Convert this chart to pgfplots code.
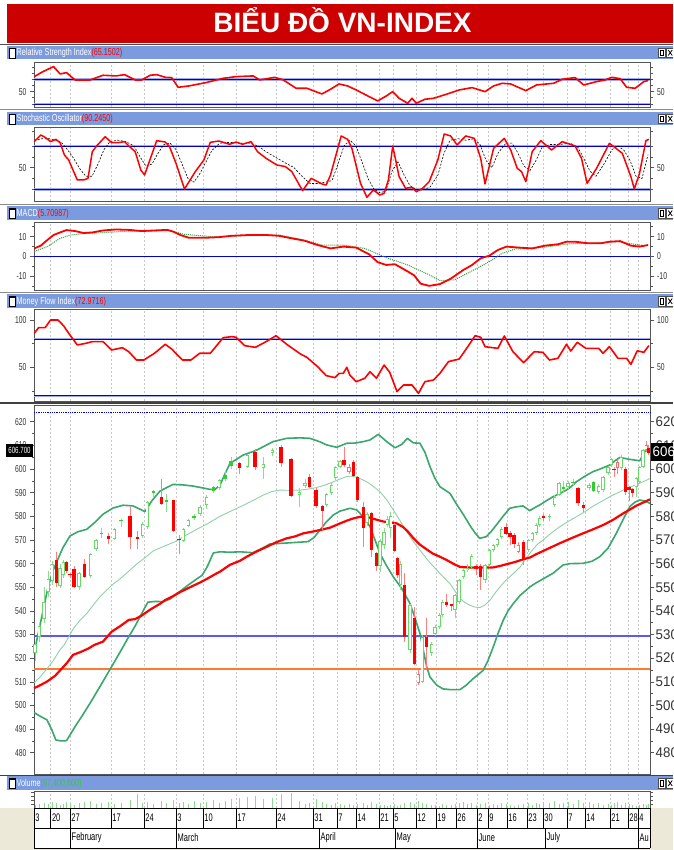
\documentclass[border=0pt]{standalone}
\usepackage{fontspec}
\setmainfont{Liberation Sans}
\newfontfamily\nar[FakeStretch=0.68]{Liberation Sans}
\newfontfamily\narb[FakeStretch=0.95]{Liberation Sans}
\newfontfamily\hdrf[FakeStretch=0.72]{Liberation Sans}
\usepackage{pgfplots}
\usepackage{pgfplotstable}
\pgfplotsset{compat=1.18}
\definecolor{titlered}{HTML}{CC0000}
\definecolor{hdrc}{HTML}{7B9BDE}
\definecolor{bbgreen}{HTML}{3AA76D}
\definecolor{mbgreen}{HTML}{8ED1A8}
\definecolor{cgreen}{HTML}{66D966}
\definecolor{cgreenf}{HTML}{33CC33}
\definecolor{cred}{HTML}{FF0000}
\definecolor{cpink}{HTML}{FF6A6A}
\definecolor{wickred}{HTML}{FF7F7F}
\definecolor{wickgreen}{HTML}{8AE08A}
\definecolor{lineblue}{HTML}{0000CC}
\definecolor{haloblue}{HTML}{A0A8F0}
\definecolor{pblue}{HTML}{5A5AF0}
\definecolor{orangeline}{HTML}{FF7A30}
\definecolor{beige}{HTML}{ECE9D8}
\definecolor{axisc}{HTML}{555555}
\definecolor{tickc}{HTML}{333333}
\definecolor{gridc}{HTML}{C8C8C8}
\definecolor{volg}{HTML}{8ADD8A}
\definecolor{sigg}{HTML}{2E9E3E}
\definecolor{valgreen}{HTML}{33CC33}

\pgfplotsset{
  panel/.style={
    scale only axis, width=616pt, anchor=south west,
    xmin=34, xmax=650, xtick=\empty,
    axis line style={draw=axisc, line width=0.8pt},
    tick align=outside, tick style={draw=axisc, line width=0.6pt},
    major tick length=4pt, minor tick length=2.5pt,
    yticklabel style={font=\nar\fontsize{10}{10}\selectfont, text=tickc},
    /pgf/number format/assume math mode=true,
    clip=false,
  },
}

% ---------------- candles ----------------
\pgfplotstableread{
x o h l c
35 522 527 519 526
39.3 529 535 527 533.8
44 536.6 550 535 543.6
48.3 548 557 546 553.5
52.3 552.8 561 551 559.8
60 550.7 560 549.5 558
63.3 555.2 561.5 554 560.5
79 550 556.5 549 555.9
90.7 554.9 564.5 554 564
96 566.1 570.5 565.5 569.9
114.3 570.3 575 570 574.5
142.7 571.8 577.5 571 576.7
147.3 575.3 586.5 574.5 586
183.3 569.6 575 569 574.5
188.3 576 579 575.5 578.3
200 581 585 580 584
206.7 584.7 589 583 588.3
219.3 591.8 596 591 595.4
247.3 601 606.5 600.5 605.9
263.3 600.3 605 596 602
272.3 606.6 609 605.5 608
299.3 589 592 583.8 590.4
305 592.8 596 592 594.2
326.7 584.8 590 584 589.4
331.7 589.7 594 589 593.2
335.7 596.1 601.5 595.5 601
340 601 604 600.5 603.4
367 577 582 576 581
380 559 570.5 556.5 569.5
384 567.8 575 566 573.4
387.3 576.3 580 575.5 579
390.7 575 582 571 580
400.5 551 561 549 560
410 523.4 543 522 542.4
422.3 510 530 509.5 529
431.7 522.2 527 521 526.2
435 530.4 534 529.5 533.2
439.3 533.2 539 532.5 538.2
442.7 538.2 544.5 537.5 543.8
455 540.3 547 536.8 546.6
459 543.8 553.5 543 553
463.3 554.4 558 553.5 557.5
467.3 557.2 560 556.5 558.3
471.7 558.6 564 558 563.1
485 553 560 552 559.3
489.3 559.3 566 558.5 565.7
493.3 565.7 568.5 565 567.8
497.3 567.8 571 567 570.6
501.7 571.3 575.5 570.5 574.8
528.7 565.7 570.5 565 570
532.3 570 573.5 569 572.8
536.3 572.8 577 572 576.3
539.7 576.3 580 575.5 579.1
549.7 579.6 581 578 580
554.7 584.8 589 584 588.3
559 589 594.5 588.5 593.9
568 592.3 595 591.5 594.2
589 591.8 594 591 593.2
598.7 590.4 593.5 589.5 592.8
603 591.1 597 590.5 596.5
608 598.2 601.5 597.5 601
611.3 601.7 604.5 601 604.1
621.3 600.3 606 599.5 605.2
636.3 592.3 596.5 588 596.1
639.7 594.6 601.5 593.5 601
643 601 608.5 600.5 608
}\gh
\pgfplotstableread{
x o h l c
101.7 572.5 575 571 573
121 578 579 575.5 578.5
153.3 590 591 588 590.5
166.7 586.2 589.5 582 586.6
194 579.5 581 578.5 580
213.3 590.8 593 590 592.3
225 596 599 595 597.5
231 601.3 605 600 603.4
563.7 591.4 595 590 592.5
573 594 596 593 594.6
593.7 590.8 595 590.5 594.6
}\gf
\pgfplotstableread{
x o h l c
56.7 561.5 564.7 550 552
66.7 560.5 561 556 556.9
70 555.5 556 554 555
74 557.7 559 549.5 550.3
84.3 559.8 562 554 554.2
108.3 571.7 573 568.5 570.3
130 580 584 566.1 571.3
137.3 571 574 566 570.6
161.7 588 596 584.8 585.1
173.3 586.7 587 573.5 573.8
179 570.2 572 564 569.8
239.3 602.4 603 598 600.3
255 607.3 608.5 599.5 600.7
281 609.2 610 601 602.4
291 604.1 604.5 588 588.6
309.3 596.8 598 592 592.2
316 591.1 592 583.5 584.4
322.3 584.4 585 574.2 582.4
344 603.8 609.5 601 601.7
353.3 603.1 604 596.5 597
357.3 596.5 597 586 586.9
363.3 584.1 586 567 574.9
371.7 581.2 582 562.8 565.7
376.5 564.5 565 557 559
394.3 576.3 577 565 565.4
397.7 562.2 563 554 555.1
404.5 551 556 527 529
414.3 536.8 541.7 517 517.7
426.7 529 537.2 515.6 524.8
446.7 543.8 547.3 541.8 542.4
451.7 542.6 543 540 542.2
476 558.9 560 555 557.9
480.7 558.9 560 548.8 554.4
506 575.5 577 572 572.7
510 573 574 568 571.3
514 572 573 566.5 568.5
523.3 569.2 570 559.5 561.7
543.7 580 581 578 579.5
578 591.8 592.5 584.5 585.5
583.7 584.8 586 582 583.4
614 600 601 596.5 599.4
625.7 599.9 601 589 590.4
629 592.2 593 586.5 591.1
632.3 591.4 592 588 589.7
648.5 609 610 606 606.7
}\rf
\pgfplotstableread{
x o h l c
349 598.9 602 598 601
418.3 509.3 515 508.5 513.5
518.3 565 569 564.5 567.8
617.5 600.5 604 598 603
646.3 608 612 607.5 610.2
}\rh
\pgfplotstableread{
x v
35 3
39.3 4
44 5
48.3 4
52.3 6
56.7 5
60 3
63.3 4
66.7 6
70 4
74 3
79 5
84.3 6
90.7 7
96 4
101.7 5
108.3 6
114.3 4
121 5
130 8
137.3 14
142.7 5
147.3 6
153.3 4
161.7 7
166.7 5
173.3 8
179 5
183.3 6
188.3 4
194 7
200 5
206.7 6
213.3 8
219.3 5
225 7
231 9
239.3 10
247.3 11
255 12
263.3 9
272.3 10
281 14
291 15
299.3 7
305 4
309.3 5
316 9
322.3 6
326.7 4
331.7 3
335.7 5
340 4
344 3
349 4
353.3 3
357.3 4
363.3 5
367 3
371.7 6
376.5 4
380 3
384 3
387.3 2
390.7 3
394.3 4
397.7 2
400.5 3
404.5 5
410 6
414.3 4
418.3 7
422.3 5
426.7 4
431.7 3
435 3
439.3 2
442.7 4
446.7 3
451.7 3
455 4
459 5
463.3 6
467.3 4
471.7 5
476 3
480.7 4
485 5
489.3 3
493.3 4
497.3 3
501.7 5
506 4
510 3
514 2
518.3 3
523.3 4
528.7 5
532.3 3
536.3 5
539.7 4
543.7 6
549.7 5
554.7 7
559 4
563.7 5
568 6
573 4
578 8
583.7 5
589 6
593.7 4
598.7 5
603 3
608 4
611.3 3
614 5
617.5 6
621.3 3
625.7 5
629 4
632.3 3
636.3 2
639.7 3
643 4
646.3 3
648.5 4
}\vol

\newcommand\wicks[2]{\addplot[draw=none, mark=none, forget plot, error bars/.cd, y dir=plus, y explicit, error mark=none, error bar style={draw=#2, line width=0.8pt}] table[x=x, y=l, y error expr=\thisrow{h}-\thisrow{l}] {#1};}
\newcommand\bodies[3]{\addplot[draw=none, mark=none, forget plot, error bars/.cd, y dir=plus, y explicit, error mark=none, error bar style={draw=#2, line width=#3}] table[x=x, y expr={min(\thisrow{o},\thisrow{c})}, y error expr={max(abs(\thisrow{c}-\thisrow{o}),0.6)}] {#1};}
\newcommand\holes[1]{\addplot[draw=none, mark=none, forget plot, error bars/.cd, y dir=plus, y explicit, error mark=none, error bar style={draw=white, line width=1.7pt}] table[x=x, y expr={min(\thisrow{o},\thisrow{c})+0.42}, y error expr={max(abs(\thisrow{c}-\thisrow{o})-0.84,0)}] {#1};}

\newcommand\header[3]{%
  \fill[hdrc] (7,#1) rectangle (673,#1+13.5);
  \draw[black, fill=white, line width=0.5pt] (9,#1+1.5) rectangle (15.5,#1+11.5);
  \draw[black, line width=1.3pt] (9,#1+10.8) -- (15.5,#1+10.8);
  \node[anchor=west, inner sep=0pt, text=white, font=\hdrf\fontsize{10}{10}\selectfont] at (16.5,#1+6.5) {#2#3};
  \draw[black!70, fill=white, line width=0.4pt] (658,#1+2) rectangle (665.5,#1+11.5);
  \draw[black, line width=0.6pt] (660,#1+4) rectangle (663.5,#1+9.5);
  \draw[black!70, fill=white, line width=0.4pt] (666.5,#1+2) rectangle (674,#1+11.5);
  \draw[black, line width=0.8pt] (668.2,#1+4) -- (672.2,#1+9.5) (668.2,#1+9.5) -- (672.2,#1+4);
}
\newcommand\gridlines[2]{%
  \foreach \gx in {50.6,70,111,144,176,203,236,276,313,337,356,379,393,416,436,456,477,488,507,527,543,567,585,610,628,638}
    {\draw[gridc, dash pattern=on 2pt off 2pt, line width=0.5pt] (\gx,#1) -- (\gx,#2);}
}

\begin{document}
\begin{tikzpicture}[x=1pt,y=1pt]
\path[use as bounding box] (0,0) rectangle (673,850);
\clip (0,0) rectangle (673,850);
\fill[white] (0,0) rectangle (673,850);

% title
\fill[titlered] (7,807) rectangle (673,846);
\node[anchor=base, inner sep=0pt, text=white, font=\bfseries\fontsize{28}{28}\selectfont] at (342.5,817) {BIỂU ĐỒ VN-INDEX};
\draw[black!70, line width=1.5pt] (0,805.5) -- (673,805.5);

% headers
\header{790.5}{Relative Strength Index}{\textcolor{cred}{(65.1502)}}
\draw[black!45, line width=1.5pt] (0,740.5) -- (673,740.5);
\header{724.5}{Stochastic Oscillator}{\textcolor{cred}{(90.2450)}}
\draw[black!45, line width=1.5pt] (0,645.5) -- (673,645.5);
\header{630}{MACD}{\textcolor{cred}{(5.70987)}}
\draw[black!45, line width=1.5pt] (0,557.5) -- (673,557.5);
\header{542}{Money Flow Index}{\textcolor{cred}{(72.9716)}}
\draw[black!75, line width=1.5pt] (0,447) -- (673,447);
\draw[black!75, line width=1.5pt] (0,74.5) -- (673,74.5);
\header{60}{Volume}{\textcolor{valgreen}{(87,400,600)}}

% grid lines
\gridlines{743}{788}
\gridlines{649}{723}
\gridlines{560}{628}
\gridlines{449}{541}
\gridlines{76}{445}
\gridlines{42}{59}

% ---------------- RSI ----------------
\begin{axis}[panel, at={(34pt,743pt)}, height=45pt, ymin=25.1, ymax=98,
  ytick={50}, minor ytick={30,40,60,70,80,90}]
\draw[haloblue, line width=2.6pt] (axis cs:34,70) -- (axis cs:650,70) (axis cs:34,30) -- (axis cs:650,30);
\draw[lineblue, line width=0.8pt] (axis cs:34,70) -- (axis cs:650,70) (axis cs:34,30) -- (axis cs:650,30);
\addplot[cred, line width=1.6pt, line join=round] coordinates {
(34.3,74.3)(42.9,82.4)(53.6,90.5)(60.1,78.6)(66.5,80.8)(75.1,68.9)(90.1,68.9)(103,76.5)(115.9,75.4)(124.5,77.5)(135.2,68.9)(141.6,68.9)(150.2,76.5)(156.7,77.5)(165.2,73.2)(171.7,72.7)(178.1,57)(188.8,59.2)(206,64.6)(223.2,71.6)(236,74.3)(253.2,75.4)(259.7,68.9)(274.7,73.2)(283.3,68.9)(296.1,55.4)(306.9,55.4)(321.9,46.2)(330.5,53.8)(339,62.4)(347.6,59.2)(356.2,52.7)(369.1,41.9)(377.7,34.9)(386.3,43)(392.7,50)(399.1,39.2)(407.7,31.1)(412,39.2)(416.3,31.1)(424.9,37.6)(433.5,39.2)(446.4,45.7)(459.2,52.7)(472.1,56.5)(485,50)(493.6,59.2)(502.1,63.5)(510.7,62.4)(525.8,51.6)(536.5,60.8)(553.6,63.5)(562.2,70)(575.1,72.7)(583.7,60.8)(596.6,66.2)(605.2,68.9)(611.6,73.2)(620.2,71)(626.6,57)(635.2,55.4)(643.8,66.2)(648,67.8)};
\end{axis}

% ---------------- Stochastic ----------------
\begin{axis}[panel, at={(34pt,649pt)}, height=74pt, ymin=3.8, ymax=106.3,
  ytick={50}, minor ytick={20,35,65,80,100}]
\draw[haloblue, line width=2.6pt] (axis cs:34,80) -- (axis cs:650,80) (axis cs:34,20) -- (axis cs:650,20);
\draw[lineblue, line width=0.8pt] (axis cs:34,80) -- (axis cs:650,80) (axis cs:34,20) -- (axis cs:650,20);
\addplot[black, line width=0.6pt, dash pattern=on 2pt off 1.5pt] coordinates {
(34.3,88)(42,90)(50,90)(56,88)(62,84)(68,74)(74,62)(80,48)(86,38)(92,38)(98,55)(104,75)(110,86)(118,88)(126,86)(134,80)(140,65)(146,52)(152,55)(158,70)(164,82)(170,84)(176,75)(182,55)(188,35)(194,30)(200,42)(206,58)(212,74)(220,84)(230,85)(240,84)(250,84)(258,80)(266,72)(276,64)(286,56)(294,50)(302,38)(310,28)(318,28)(326,30)(332,32)(338,55)(344,80)(350,88)(356,80)(362,58)(368,35)(374,20)(380,15)(386,18)(392,45)(398,58)(404,40)(410,25)(416,20)(422,19)(430,23)(438,40)(444,70)(450,88)(458,90)(466,88)(474,90)(480,82)(486,60)(492,50)(498,70)(506,84)(512,84)(518,70)(524,52)(530,46)(536,60)(542,78)(550,82)(560,82)(570,84)(578,78)(584,62)(590,45)(596,38)(604,55)(612,75)(618,80)(624,74)(630,60)(636,38)(642,35)(648,68)};
\addplot[cred, line width=1.5pt, line join=round] coordinates {
(34.3,86.0)(40.8,95.2)(45.1,92.0)(50.6,86.0)(55.8,89.2)(60.1,84.6)(64.4,67.5)(68.7,60.6)(73.0,46.7)(77.3,32.9)(83.7,32.9)(88.0,35.2)(92.3,72.1)(96.6,80.0)(105.2,92.9)(111.6,84.6)(118.0,84.6)(124.5,86.0)(128.8,80.0)(135.2,72.1)(140.8,46.7)(144.6,39.8)(148.1,53.7)(156.7,87.4)(165.2,85.5)(169.5,79.1)(176.0,56.0)(184.5,20.4)(195.3,44.5)(203.9,60.6)(210.3,85.1)(218.9,86.9)(229.6,82.3)(236.1,85.5)(242.5,82.3)(251.1,86.0)(257.5,72.1)(266.1,62.9)(276.8,53.7)(285.4,51.4)(291.8,44.5)(302.6,18.1)(311.2,35.2)(321.9,27.4)(326.2,26.0)(330.5,39.8)(341.2,93.9)(347.6,89.2)(351.9,76.8)(360.5,28.3)(366.9,8.9)(373.4,19.1)(379.8,12.1)(384.1,14.4)(388.4,32.9)(392.7,80.0)(399.1,37.5)(405.6,21.4)(412.0,22.7)(416.3,16.7)(422.7,21.4)(429.2,30.6)(437.8,60.6)(444.2,96.6)(450.6,93.9)(457.1,81.4)(465.7,93.9)(474.2,90.6)(480.7,62.9)(485.0,27.4)(493.6,76.8)(504.3,90.6)(510.7,74.4)(517.2,49.1)(521.5,44.5)(525.8,30.6)(532.2,72.1)(540.8,87.4)(551.5,74.4)(562.2,86.0)(575.1,80.0)(581.5,62.9)(587.1,28.3)(596.6,49.1)(609.4,83.7)(615.9,76.8)(622.3,69.8)(630.9,37.5)(634.3,20.4)(639.5,42.1)(645.9,87.4)(648.9,89.2)};
\end{axis}

% ---------------- MACD ----------------
\begin{axis}[panel, at={(34pt,560pt)}, height=68pt, ymin=-17.1, ymax=17.4,
  ytick={-10,0,10}, minor ytick={-15,-5,5,15}]
\draw[lineblue, line width=0.9pt] (axis cs:34,0) -- (axis cs:650,0);
\addplot[sigg, line width=1pt, densely dotted] coordinates {
(34.3,2.4)(47.2,4.9)(60.1,9.1)(70.8,10.8)(85.8,11.6)(107.3,12.1)(128.8,12.8)(150.2,12.8)(169.5,13.1)(184.5,11.1)(201.7,10.4)(214.6,9.9)(236.1,10.3)(257.5,10.6)(279.0,10.8)(300.4,8.7)(321.9,5.7)(343.3,5.7)(364.8,4.0)(386.3,-0.7)(407.7,-4.4)(429.2,-9.4)(439.9,-12.4)(454.9,-11.9)(472.1,-7.4)(489.3,-2.7)(502.1,1.5)(515.0,3.7)(532.2,4.0)(549.4,4.9)(566.5,6.2)(583.7,6.6)(600.9,6.9)(618.0,7.4)(630.9,6.4)(643.8,5.4)(648.1,5.7)};
\addplot[cred, line width=1.8pt, line join=round] coordinates {
(34.3,4.0)(40.8,5.4)(47.2,8.2)(53.6,10.8)(60.1,12.1)(66.5,13.3)(75.1,12.8)(83.7,11.8)(92.3,12.1)(103.0,13.1)(115.9,13.6)(128.8,13.4)(141.6,12.8)(154.5,13.1)(167.4,13.4)(173.8,12.4)(180.3,10.8)(188.8,9.4)(206.0,9.4)(218.9,9.7)(231.8,10.4)(248.9,10.8)(266.1,10.8)(279.0,10.4)(291.8,9.1)(304.7,7.9)(317.6,5.7)(330.5,4.0)(343.3,4.9)(356.2,4.4)(369.1,1.0)(377.7,-3.0)(386.3,-4.4)(394.8,-4.0)(407.7,-7.7)(414.2,-9.7)(420.6,-13.9)(429.2,-15.0)(439.9,-14.1)(450.6,-11.4)(463.5,-6.9)(472.1,-4.4)(480.7,-1.0)(489.3,0.3)(497.9,3.2)(506.4,4.9)(519.3,4.4)(532.2,4.0)(545.1,5.4)(557.9,6.1)(566.5,7.4)(575.1,7.4)(588.0,6.6)(600.9,6.6)(609.4,7.4)(620.2,7.7)(630.9,5.4)(639.5,4.9)(648.1,5.7)};
\end{axis}

% ---------------- MFI ----------------
\begin{axis}[panel, at={(34pt,449pt)}, height=92pt, ymin=14.4, ymax=111.6,
  ytick={50,100}, minor ytick={25,75}]
\draw[haloblue, line width=2.2pt] (axis cs:34,80) -- (axis cs:650,80) (axis cs:34,20) -- (axis cs:650,20);
\draw[lineblue, line width=0.8pt] (axis cs:34,80) -- (axis cs:650,80) (axis cs:34,20) -- (axis cs:650,20);
\addplot[cred, line width=1.6pt, line join=round] coordinates {
(34.3,85.9)(38.6,91.9)(45.1,91.9)(50.6,100.0)(57.9,100.0)(63.5,94.0)(68.7,85.9)(77.3,73.6)(85.8,75.3)(92.3,77.1)(103.0,77.1)(111.6,68.3)(122.3,70.7)(128.8,66.5)(136.5,57.7)(143.8,57.7)(154.5,64.8)(165.2,74.3)(171.7,69.3)(182.4,57.7)(191.0,57.7)(199.6,64.8)(210.3,64.8)(223.2,81.3)(231.8,82.4)(236.1,81.7)(244.6,72.9)(255.4,71.1)(266.1,77.1)(276.0,83.4)(287.6,73.6)(300.4,64.1)(306.9,60.5)(317.6,50.7)(326.2,41.2)(334.8,39.1)(339.1,43.6)(343.3,43.6)(346.8,50.0)(349.8,41.9)(356.2,34.8)(364.8,38.4)(370.0,45.4)(376.4,38.4)(384.1,52.4)(389.7,44.7)(397.0,24.3)(403.4,31.3)(412.0,31.3)(418.5,22.5)(424.9,34.8)(433.5,36.6)(439.9,43.6)(448.5,56.0)(459.2,58.8)(467.8,71.8)(475.1,83.4)(480.7,81.7)(485.0,71.8)(497.9,70.0)(504.3,83.1)(512.9,66.5)(523.6,54.9)(534.3,66.5)(542.9,65.8)(549.4,57.7)(557.9,59.5)(566.5,74.3)(570.8,67.2)(577.3,76.4)(585.8,70.0)(598.7,70.0)(603.0,64.8)(609.4,71.8)(618.0,59.5)(626.6,59.5)(630.9,53.1)(637.3,67.5)(643.8,65.8)(648.9,72.9)};
\end{axis}

% ---------------- Price ----------------
\begin{axis}[panel, at={(34pt,76pt)}, height=369pt, ymin=471, ymax=627.1,
  ytick={480,490,...,620}, minor tick num=1]
\draw[lineblue, densely dotted, line width=0.8pt] (axis cs:34,623.8) -- (axis cs:650,623.8);
\draw[pblue, line width=2pt] (axis cs:34,529.2) -- (axis cs:650,529.2);
\draw[orangeline, line width=2pt] (axis cs:34,515.5) -- (axis cs:650,515.5);
\addplot[mbgreen, line width=0.9pt] coordinates {
(34,509.5)(40,512)(47,515.5)(53.3,519)(60,523.5)(64,525.5)(68,528.5)(73.3,532.5)(80,536)(87,539)(93.3,542.5)(100,546)(106,548.5)(113.3,551.4)(120,553.5)(128,556.5)(136.7,559.8)(145,562.5)(153.3,565.4)(165,567.5)(176.7,569.6)(186,572)(196.7,574.5)(208,577)(220,580)(230,582)(240,584)(252,586.5)(263.3,589)(272,590.5)(280,591.1)(290,591)(300,591.1)(308,591.5)(316.7,592.2)(325,593.2)(333.3,594.6)(340,595.8)(346.7,596.8)(351,597)(356.7,596.5)(361,595.8)(366.7,594.6)(373,592.8)(380,590.4)(386.7,587)(393.3,582.7)(400,578.2)(406.7,573.5)(413,569.5)(420,565.7)(428,561.3)(436.7,557.3)(443,554.5)(450,551.5)(460,545.2)(465,543.5)(470,542.4)(475,541.6)(480,541.4)(485,542.5)(490,544.5)(495,547.5)(500,550.2)(506,553)(513.3,555.8)(520,558.5)(526.3,562.3)(532,565.5)(537,568)(543,570)(550,572.5)(559.7,575.6)(568,577.8)(576.3,579.8)(585,582)(593,584.3)(601,586.2)(609.7,588.3)(618,590)(626.3,591.8)(635,593.2)(643,594.6)(650,596)};
\addplot[bbgreen, line width=1.6pt, line join=round] coordinates {
(34,522)(38,530)(44,542)(48,550)(53,557)(58,562)(63,566.8)(70,571.7)(78,573.5)(86.7,574.5)(95,577.5)(103,580.9)(113,583.5)(123,584.7)(133,584.4)(140,583)(145,582)(151.7,586.5)(160,590.7)(173,593.5)(183,593.3)(193,592.8)(203,592)(210,591.4)(215,591.4)(220,593.2)(225,598)(230,602.4)(243,605.9)(256.7,608)(273,611.6)(286.7,613)(300,613.2)(310,613)(320,611.5)(326.7,610.2)(336.7,609.2)(346.7,610.9)(355,611)(363.3,611.6)(370,612.3)(378.3,614.7)(386.7,611.6)(395,609)(401.7,610.4)(407.3,613)(413.3,611.1)(420,610.9)(425,607)(430,601)(435,596)(440,592.5)(450,589.7)(456,585.5)(463,581)(469.7,576.3)(475,573)(479.7,570.7)(486.3,571.4)(491,573.5)(496.3,576.3)(503,580)(509.7,583.4)(516,584)(523,584.4)(529.7,582.4)(534,583.5)(539.7,584.8)(546,586.5)(553,588.3)(560,589.7)(566.3,591.1)(571,592.5)(576.3,594.6)(585,597)(593,598.9)(600,600)(609.7,601.7)(615,603.5)(619.7,604.9)(625,604.5)(629.7,604.1)(635,603.8)(639.7,603.5)(644.7,607.3)(650,608.7)};
\addplot[bbgreen, line width=1.6pt, line join=round] coordinates {
(34,497)(40,495.5)(47,493.9)(52,489.5)(55.8,485.4)(61,485)(66.5,485.1)(70,487.5)(75,491)(82,495.5)(90,500.9)(100,508)(111.6,516.4)(120,522.5)(128,528.5)(135,533.5)(140,537.5)(145,541.5)(148,543.7)(155,544)(163.3,543.9)(170,545)(180,548.3)(190,551.5)(196.7,553.5)(202,555)(207,558.5)(213.3,564.5)(220,565)(230,564.8)(240,565)(253,564.6)(260,566)(270,568.3)(290,568.8)(308,569.3)(314,571)(320,574.2)(326,577.5)(333,580.5)(340,582.2)(350,583.4)(356.7,582.7)(363.3,579.8)(370,575.6)(375,570)(380,564.3)(386,559.5)(393.3,554.4)(401.7,549.5)(405,547)(410,543.1)(415,537)(420,530.4)(423,524)(426.7,516.3)(430,512)(436.7,508.6)(443,507)(450,506.7)(460,506.7)(466,508.5)(473.3,511.4)(478,513)(483.3,514.9)(488,519)(493.3,524.8)(498,530.5)(503.3,536.1)(508,540)(513.3,543.1)(520,546.5)(526.3,548.8)(530,550.2)(536.3,551.9)(545,554)(553,555.9)(563,559.4)(570,560)(583,560.1)(592,561)(599.7,562.9)(608,566.5)(616.3,572.8)(623,578.5)(629.7,584.1)(635,586)(639.7,586.9)(644.7,586.5)(650,585.5)};
\addplot[cred, line width=2.2pt, line join=round] coordinates {
(34,507.3)(40,508.5)(47,510.1)(55,512.5)(62,515.7)(67,518)(73,521.4)(80,522.5)(88,524)(94.4,525.6)(103,527)(111.6,531.2)(120,533.5)(128.8,536.2)(135,536.5)(141.6,538)(150,540.5)(160,543)(165.2,544.6)(172,546)(180.3,548)(190,550)(200,552)(206.7,553.5)(215,555.5)(220,556.6)(230,559.5)(240,561.2)(246.7,562.9)(256,565)(266.7,567.1)(276,569)(286.7,570.7)(295,571.5)(303.3,572.8)(312,573.5)(320,574.2)(330,575.2)(340,577)(347,578.2)(353.3,579.1)(360,579.8)(366.7,579.8)(373,579)(383.3,577.8)(390,577.5)(396.7,577)(403,575.5)(408,573.5)(413.3,570.8)(420,568)(426.7,566)(433,564.2)(440,562.9)(446.7,561.5)(453,560)(460,558.6)(468,558.4)(476.7,558.3)(485,558.3)(493.3,558.4)(500,559)(509.7,560.1)(516,560.8)(523,561.8)(530,562.6)(536.3,564)(548,566.3)(559.7,568.6)(570,570.5)(583,572.8)(593,574.5)(603,576.3)(613,578.5)(623,581.2)(630,582.9)(636.3,584.5)(643,585.8)(650,587.2)};
\wicks{\gh}{wickgreen}
\wicks{\gf}{wickgreen}
\wicks{\rf}{wickred}
\wicks{\rh}{wickred}
\bodies{\gh}{cgreen}{3.5pt}
\holes{\gh}
\bodies{\rh}{cpink}{3.5pt}
\holes{\rh}
\bodies{\gf}{cgreenf}{3.5pt}
\bodies{\rf}{cred}{3.5pt}
\end{axis}

% ---------------- Volume ----------------
\begin{axis}[panel, at={(34pt,42pt)}, height=17pt, ymin=0, ymax=17,
  ytick={4,8,12,16}, yticklabels={}, major tick length=3pt]
\addplot[volg, line width=0.9pt, ycomb, mark=none] table[x=x, y=v] {\vol};
\end{axis}

% right-hand labels
\tikzset{rl/.style={anchor=west, inner sep=0pt, font=\nar\fontsize{10}{10}\selectfont, text=tickc}}
\node[rl] at (657,{743+(50-25.1)*45/72.9}) {50};
\node[rl] at (657,{649+(50-3.8)*74/102.5}) {50};
\node[rl] at (657,{560+(10+17.1)*68/34.5}) {10};
\node[rl] at (657,{560+(0+17.1)*68/34.5}) {0};
\node[rl] at (657,{560+(-10+17.1)*68/34.5}) {-10};
\node[rl] at (657,{449+(100-14.4)*0.9465}) {100};
\node[rl] at (657,{449+(50-14.4)*0.9465}) {50};
\foreach \v in {480,490,...,620} {
  \pgfmathsetmacro\yy{76+(\v-471)*2.3639}
  \node[anchor=west, inner sep=0pt, font=\narb\fontsize{14}{14}\selectfont, text=tickc] at (655.5,\yy) {\v};
}

% value boxes
\fill[black] (6,393) rectangle (33,405.5);
\node[inner sep=0pt, text=white, font=\nar\fontsize{9}{9}\selectfont] at (19.5,399.2) {606.700};
\fill[black] (651,389) rectangle (680,407);
\node[anchor=west, inner sep=0pt, text=white, font=\narb\fontsize{14}{14}\selectfont] at (652.5,398) {606.7};

% date axis
\fill[beige] (0,0) rectangle (673,42);
\fill[white] (34,2) rectangle (650,42);
\draw[black, line width=0.6pt] (34,42) -- (650,42) (34,22) -- (650,22) (34,2) -- (650,2);
\draw[black, line width=0.6pt] (34,2) -- (34,42) (650,2) -- (650,42);
\foreach \x/\l in {50.6/20,70/27,111/17,144/24,176/3,203/10,236/17,276/24,313/31,337/7,356/14,379/21,393/5,416/12,436/19,456/26,477/2,488/9,507/16,527/23,543/30,567/7,585/14,610/21,628/28,638/4}
  {\draw[black, line width=0.6pt] (\x,22) -- (\x,42);
   \node[anchor=west, inner sep=0pt, font=\nar\fontsize{11}{11}\selectfont] at (\x+1.2,32) {\l};}
\node[anchor=west, inner sep=0pt, font=\nar\fontsize{11}{11}\selectfont] at (35.2,32) {3};
\foreach \x/\l in {70/February,176/March,319/April,395/May,477/June,545/July,638/Au}
  {\draw[black, line width=0.6pt] (\x,2) -- (\x,22);
   \node[anchor=west, inner sep=0pt, font=\nar\fontsize{11}{11}\selectfont] at (\x+1.5,12) {\l};}
\end{tikzpicture}
\end{document}
